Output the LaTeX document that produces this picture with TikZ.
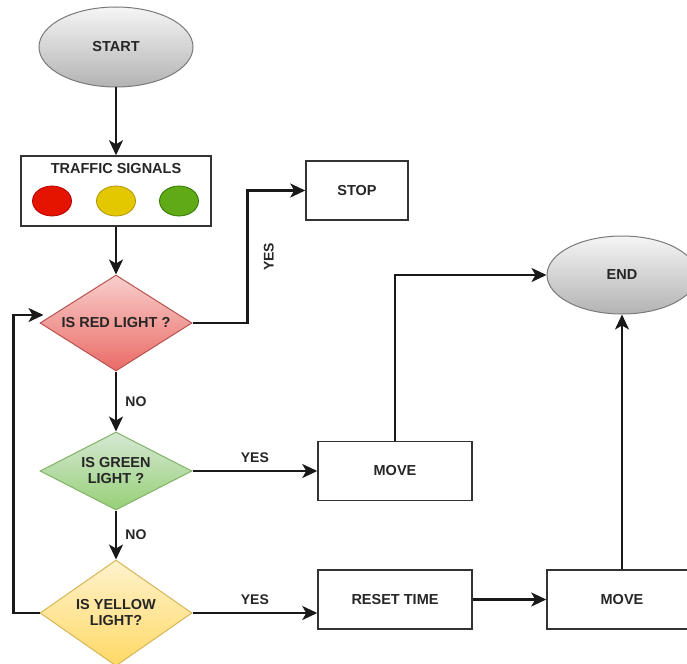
\documentclass[tikz,border=0pt]{standalone}
\usepackage{fontspec}
\setmainfont{Liberation Sans}
\usetikzlibrary{shapes.geometric,arrows.meta,calc}
\definecolor{edgegray}{HTML}{333333}
\definecolor{ellstroke}{HTML}{7A7A7A}
\definecolor{ellTop}{HTML}{F5F5F5}
\definecolor{ellBot}{HTML}{B3B3B3}
\definecolor{redTop}{HTML}{F8CECC}
\definecolor{redBot}{HTML}{EA6B66}
\definecolor{redStroke}{HTML}{B85450}
\definecolor{greenTop}{HTML}{D5E8D4}
\definecolor{greenBot}{HTML}{97D077}
\definecolor{greenStroke}{HTML}{82B366}
\definecolor{yelTop}{HTML}{FFF2CC}
\definecolor{yelBot}{HTML}{FFD966}
\definecolor{yelStroke}{HTML}{D6B656}
\definecolor{lampRed}{HTML}{E51400}
\definecolor{lampRedS}{HTML}{B20000}
\definecolor{lampYel}{HTML}{E3C800}
\definecolor{lampYelS}{HTML}{B09500}
\definecolor{lampGreen}{HTML}{60A917}
\definecolor{lampGreenS}{HTML}{2D7600}
\tikzset{
  lbl/.style={font=\bfseries\fontsize{14.5}{16}\selectfont, text=black!85, align=center},
  terminal/.style={ellipse, draw=ellstroke, line width=1pt, top color=ellTop, bottom color=ellBot, inner sep=0pt, lbl},
  procbox/.style={rectangle, draw=edgegray, line width=1.5pt, fill=white, inner sep=0pt, lbl},
  decision/.style={diamond, inner sep=0pt, line width=1pt, lbl},
  lamp/.style={ellipse, line width=0.8pt, minimum width=39pt, minimum height=30pt, inner sep=0pt},
  arr/.style={line width=2.2pt, black!90, -{Stealth[length=15pt,width=14pt,inset=4pt]}},
  edgelbl/.style={font=\bfseries\fontsize{14}{16}\selectfont, text=black!85}
}
\begin{document}
\begin{tikzpicture}[x=1pt,y=-1pt]
\useasboundingbox (0,0) rectangle (687,663);
\clip (0,0) rectangle (687,663);
\fill[white] (0,0) rectangle (687,663);

\node[terminal, minimum width=154pt, minimum height=80pt] (start) at (116,47) {START};
\node[procbox, minimum width=190pt, minimum height=70pt] (signals) at (116,191) {};
\node[lbl] (sigtitle) at (116,169) {TRAFFIC SIGNALS};
\node[lamp, draw=lampRedS, fill=lampRed] (lred) at (52,201) {};
\node[lamp, draw=lampYelS, fill=lampYel] (lyel) at (116,201) {};
\node[lamp, draw=lampGreenS, fill=lampGreen] (lgreen) at (179,201) {};

\node[decision, draw=redStroke, top color=redTop, bottom color=redBot, aspect=1.6, minimum width=152pt, minimum height=96pt] (red) at (116,323) {IS RED LIGHT ?};
\node[decision, draw=greenStroke, top color=greenTop, bottom color=greenBot, aspect=1.95, minimum width=152pt, minimum height=78pt] (green) at (116,471) {IS GREEN\\LIGHT ?};
\node[decision, draw=yelStroke, top color=yelTop, bottom color=yelBot, aspect=1.45, minimum width=152pt, minimum height=106pt] (yellow) at (116,613) {IS YELLOW\\LIGHT?};

\node[procbox, minimum width=102pt, minimum height=59pt] (stop) at (357,190.5) {STOP};
\node[procbox, minimum width=154pt, minimum height=59pt] (move1) at (395,471) {MOVE};
\node[procbox, minimum width=154pt, minimum height=59pt] (reset) at (395,599.5) {RESET TIME};
\node[procbox, minimum width=150pt, minimum height=59pt] (move2) at (622,599.5) {MOVE};
\node[terminal, minimum width=150pt, minimum height=78pt] (end) at (622,275) {END};

\draw[arr] (start) -- (signals);
\draw[arr] (signals) -- (red);
\draw[arr] (red.east) -- ++(55,0) |- (stop.west)
  node[pos=0.25, right=12pt, edgelbl, rotate=90, anchor=north] (yes1) {YES};
\draw[arr] (red.south) -- (green.north) node[midway, right=5pt, edgelbl] (no1) {NO};
\draw[arr] (green.east) -- (green.east -| move1.west) node[midway, above=4pt, edgelbl] (yes2) {YES};
\draw[arr] (move1.north) |- (end.west);
\draw[arr] (green.south) -- (yellow.north) node[midway, right=5pt, edgelbl] (no2) {NO};
\draw[arr] (yellow.east) -- (yellow.east -| reset.west) node[midway, above=4pt, edgelbl] (yes3) {YES};
\draw[arr] (yellow.west) -- ++(-26,0) |- ([xshift=4pt,yshift=8pt]red.west);
\draw[arr] (reset.east) -- (move2.west);
\draw[arr] (move2.north) -- (end.south);
\end{tikzpicture}
\end{document}
